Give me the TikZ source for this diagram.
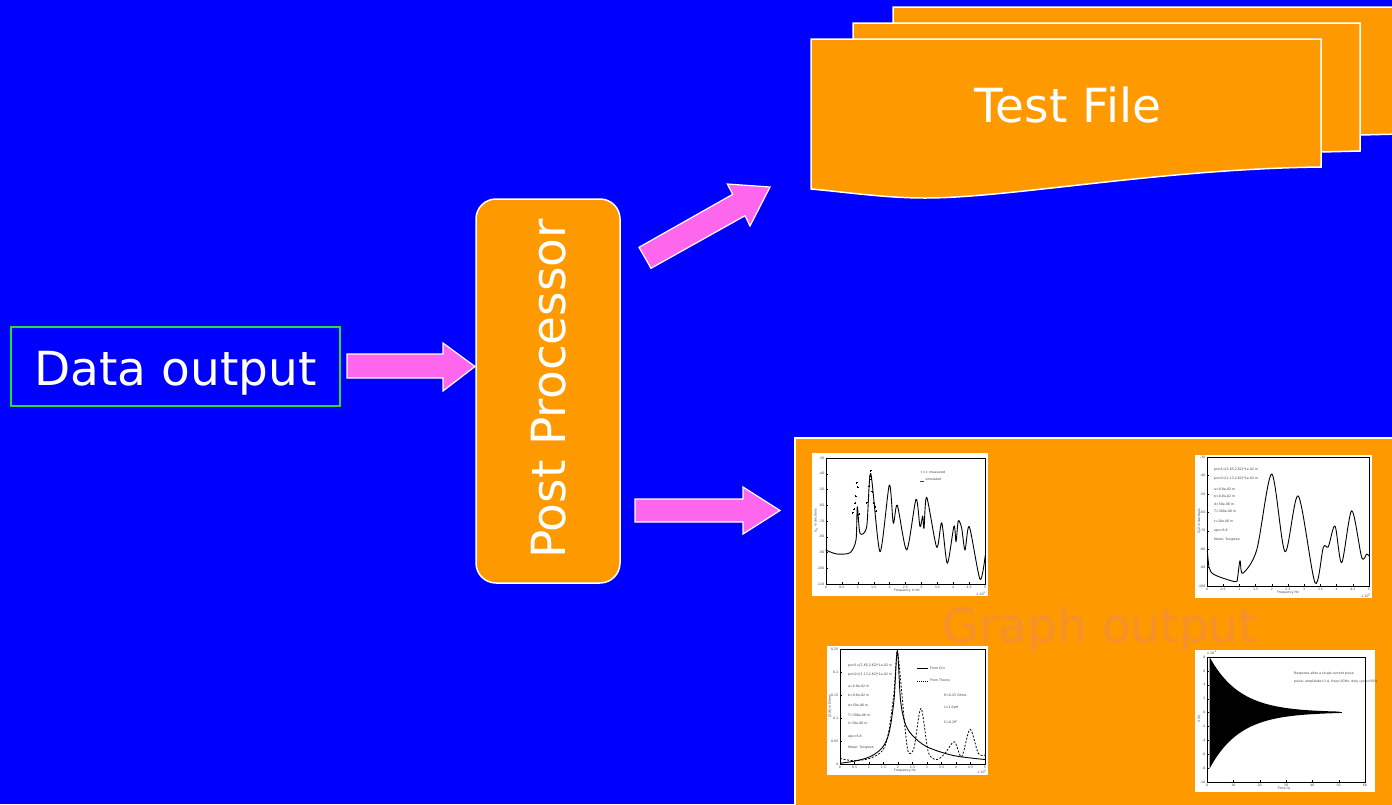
\documentclass[tikz,border=0pt]{standalone}
\usepackage{fontspec}
\setmainfont{DejaVu Sans}
\definecolor{bg}{RGB}{0,0,255}
\definecolor{org}{RGB}{255,153,0}
\definecolor{pnk}{RGB}{255,102,238}
\definecolor{grn}{RGB}{40,220,60}
\definecolor{gtxt}{RGB}{245,145,45}
\tikzset{
  page/.style={fill=org, draw=white, line width=1.5pt, line join=miter},
  blockarrow/.style={fill=pnk, draw=white, line width=1.2pt, line join=miter},
  bigtext/.style={text=white, font=\fontsize{47}{56}\selectfont, inner sep=0pt},
  plotbg/.style={fill=white},
  axbox/.style={draw=black, line width=0.7pt},
  tinytxt/.style={font=\fontsize{3.2}{3.8}\selectfont, text=black!75, inner sep=0pt},
  curve/.style={draw=black, line width=0.9pt, line join=round},
  tickmark/.style={draw=black, line width=0.3pt},
}
\begin{document}
\begin{tikzpicture}[x=1pt,y=-1pt]
\useasboundingbox (0,0) rectangle (1392,804);
\clip (0,0) rectangle (1392,804);
\fill[bg] (0,0) rectangle (1392,804);

% ---------- Test File stack ----------
\draw[page] (893,7) -- (1400,7) -- (1400,134) -- (1360,135)
  .. controls (1230,138) and (1080,156) .. (990,157) .. controls (950,157) and (920,153) .. (893,150) -- cycle;
\draw[page] (853,23) -- (1360,23) -- (1360,151) -- (1321,152)
  .. controls (1200,154) and (1050,175) .. (960,175) .. controls (920,175) and (880,171) .. (853,168) -- cycle;
\draw[page] (811,39) -- (1321,39) -- (1321,167)
  .. controls (1160,169) and (1010,198) .. (925,198)
  .. controls (885,198) and (845,192) .. (811,189) -- cycle;
\node[bigtext, anchor=base] (test) at (1068,122) {Test File};

% ---------- Data output ----------
\node[draw=grn, line width=1.5pt, minimum width=329pt, minimum height=79pt, inner sep=0pt] (data) at (175.5,366.5) {};
\node[bigtext, anchor=base] (datatext) at (175.5,385) {Data output};

% ---------- Post Processor ----------
\draw[fill=org, draw=white, line width=1.5pt, rounded corners=20pt] (476,199) rectangle (620,583);
\coordinate (post) at (548,391);
\node[bigtext, rotate=90, anchor=base] (posttext) at (565,389) {Post Processor};

% ---------- Arrows ----------
\draw[blockarrow] (347,354) -- (443,354) -- (443,343) -- (475,366.5) -- (443,391) -- (443,378) -- (347,378) -- cycle;
\draw[blockarrow] (639,247.3) -- (732.7,194.3) -- (727.3,184) -- (770,187) -- (750,226) -- (745,215.7) -- (651,268.3) -- cycle;
\draw[blockarrow] (635,499) -- (743,499) -- (743,487) -- (780,510.5) -- (743,534) -- (743,522) -- (635,522) -- cycle;

% ---------- Graph output panel ----------
\draw[fill=org, draw=white, line width=1.5pt] (795,438) rectangle (1400,812);
\node[anchor=base, text=gtxt, font=\fontsize{47}{56}\selectfont, inner sep=0pt] (graph) at (1100,642) {Graph output};

% ===== Plot 1 =====
\fill[plotbg] (812,453) rectangle (988,596);
\draw[axbox] (826,458) rectangle (985,584);
\foreach \v [count=\i from 0] in {-30,-40,-50,-60,-70,-80,-90,-100,-110}{
  \draw[tickmark] (826,{458+\i*15.75}) -- ++(2,0);
  \node[tinytxt, anchor=east] at (824.5,{458+\i*15.75}) {\v};}
\foreach \v [count=\i from 0] in {0,0.5,1,1.5,2,2.5,3,3.5,4,4.5,5}{
  \draw[tickmark] ({826+\i*15.9},584) -- ++(0,-2);
  \node[tinytxt, anchor=north] at ({826+\i*15.9},585.5) {\v};}
\node[tinytxt] at (907,591) {Frequency in Hz};
\node[tinytxt] at (981,594) {x 10\textsuperscript{9}};
\node[tinytxt, rotate=90] at (816,521) {S\textsubscript{21} in decibels};
\draw[curve] plot[smooth, tension=0.45] coordinates {(825.7,550) (836.7,554) (850,552.7) (856,540) (857.3,506.7) (860,533.3) (866.7,526.7) (870.7,473.3) (880,551.7) (889.3,485) (893.3,523.3) (897.3,505.3) (906.7,550) (916,499.3) (920,526.7) (922.7,516) (924,528.3) (926.7,497.3) (936.7,547.3) (941.7,522.7) (947.3,563.3) (954,526) (956,541.7) (958.3,520.7) (961.7,528.3) (965,550) (969.3,526.7) (980,579.3) (985.3,555)};
\foreach \a/\b in {852.7/512.7, 854/509.3, 855/503.3, 855.7/496, 856.7/482.7, 857.7/487.3, 859.3/514, 866.7/502.7, 869/486, 870/476, 870.7/470.7, 871.3/479.3, 872.3/491.7, 873.7/503.3, 875/506.7, 876/511}{
  \draw[black, line width=0.5pt] (\a,\b) +(-1,0) -- +(1,0) +(0,-1) -- +(0,1);}
\node[tinytxt, anchor=west] at (920,472) {+++ measured};
\node[tinytxt, anchor=west] at (920,480) {\underline{\ \ \ \ } simulated};

% ===== Plot 2 =====
\fill[plotbg] (1195,455) rectangle (1372,598);
\draw[axbox] (1207,457) rectangle (1369,586);
\foreach \v [count=\i from 0] in {-30,-40,-50,-60,-70,-80,-90,-100}{
  \draw[tickmark] (1207,{457+\i*18.43}) -- ++(2,0);
  \node[tinytxt, anchor=east] at (1205.5,{457+\i*18.43}) {\v};}
\foreach \v [count=\i from 0] in {0,0.5,1,1.5,2,2.5,3,3.5,4,4.5,5}{
  \draw[tickmark] ({1207+\i*16.2},586) -- ++(0,-2);
  \node[tinytxt, anchor=north] at ({1207+\i*16.2},587.5) {\v};}
\node[tinytxt] at (1288,593) {Frequency Hz};
\node[tinytxt] at (1366,596) {x 10\textsuperscript{9}};
\node[tinytxt, rotate=90] at (1199,521) {S12 in decibels};
\foreach \t [count=\i from 0] in {{port1=[2.65,2.62]*1e-02 m},{port2=[2.13,2.62]*1e-02 m}}{
  \node[tinytxt, anchor=west] at (1214,{470+\i*8.3}) {\t};}
\foreach \t/\yy in {{a=0.8e-02 m}/489.3,{b=0.8e-02 m}/496.7,{d=50e-06 m}/504,{T=300e-06 m}/511.7,{t=10e-06 m}/521,{eps=6.8}/530.7,{Metal: Tungsten}/539.3}{
  \node[tinytxt, anchor=west] at (1214,\yy) {\t};}
\draw[curve] plot[smooth, tension=0.5] coordinates {(1207.3,550) (1209.3,568.3) (1215,575) (1235,581.7) (1237.5,578) (1240,560.7) (1242.7,573.3) (1256.7,550) (1271.7,474) (1285,551.7) (1298.3,496) (1315,582.7) (1323.3,547.3) (1328.3,546.7) (1335,526) (1341.7,562.7) (1351.7,510.7) (1361.7,557.3) (1366.7,554) (1369,556)};

% ===== Plot 3 =====
\fill[plotbg] (827,646) rectangle (988,775);
\draw[axbox] (840,649) rectangle (985,764);
\foreach \v [count=\i from 0] in {0.25,0.2,0.15,0.1,0.05,0}{
  \draw[tickmark] (840,{649+\i*23}) -- ++(2,0);
  \node[tinytxt, anchor=east] at (838.5,{649+\i*23}) {\v};}
\foreach \v [count=\i from 0] in {0,0.5,1,1.5,2,2.5,3,3.5,4,4.5,5}{
  \draw[tickmark] ({840+\i*14.5},764) -- ++(0,-2);
  \node[tinytxt, anchor=north] at ({840+\i*14.5},765.5) {\v};}
\node[tinytxt] at (905,771) {Frequency Hz};
\node[tinytxt] at (982,772) {x 10\textsuperscript{9}};
\node[tinytxt, rotate=90] at (830,706) {|Z(f)| in Ohms};
\foreach \t/\yy in {{port1=[2.65,2.62]*1e-02 m}/665.7,{port2=[2.13,2.62]*1e-02 m}/674.3,{a=0.8e-02 m}/686.7,{b=0.8e-02 m}/695.7,{d=50e-06 m}/705.7,{T=300e-06 m}/715,{t=10e-06 m}/723.3,{eps=6.8}/736.7,{Metal: Tungsten}/747.7}{
  \node[tinytxt, anchor=west] at (848,\yy) {\t};}
\draw[black, line width=0.3pt] (917,668) -- (928,668);
\node[tinytxt, anchor=west] at (930,668) {From Circ};
\draw[black, line width=0.3pt, dashed, dash pattern=on 1pt off 1pt] (917,681) -- (928,681);
\node[tinytxt, anchor=west] at (930,681) {From Theory};
\node[tinytxt, anchor=west] at (944,695) {R=0.25 Ohms};
\node[tinytxt, anchor=west] at (944,707.7) {L=1.0pH};
\node[tinytxt, anchor=west] at (944,722.7) {C=0.2fF};
\draw[curve] plot[smooth, tension=0.5] coordinates {(840,763.3) (855,761) (870,756.7) (882,748) (889,733) (894,700) (897.3,650.5) (900.5,700) (905,723) (912,735) (926.7,746.7) (953.3,755.5) (985,759.5)};
\draw[curve, line width=0.8pt, dash pattern=on 2pt off 1.6pt] plot[smooth, tension=0.5] coordinates {(840,758.3) (853.3,760.7) (870,758.3) (883,750) (889,730) (894,692) (897.3,651.7) (901.7,692) (905,728) (908.3,752) (914,748) (921,708.3) (928.3,752) (936.7,759.5) (945,753.3) (954.3,741.7) (961.7,756.7) (970,729.3) (978.3,753.3) (985,755)};

% ===== Plot 4 =====
\fill[plotbg] (1195,650) rectangle (1375,792);
\draw[axbox] (1207,657) rectangle (1365,782);
\foreach \v [count=\i from 0] in {8,6,4,2,0,-2,-4,-6,-8,-10}{
  \draw[tickmark] (1207,{657+\i*13.89}) -- ++(2,0);
  \node[tinytxt, anchor=east] at (1205.5,{657+\i*13.89}) {\v};}
\foreach \v [count=\i from 0] in {0,10,20,30,40,50,60}{
  \draw[tickmark] ({1207+\i*26.33},782) -- ++(0,-2);
  \node[tinytxt, anchor=north] at ({1207+\i*26.33},783.5) {\v};}
\node[tinytxt] at (1212,653) {x 10\textsuperscript{-4}};
\node[tinytxt] at (1284,788.5) {Time ns};
\node[tinytxt, rotate=90] at (1199,719) {V (V)};
\node[tinytxt, anchor=west] at (1294,674) {Response after a single current pulse};
\node[tinytxt, anchor=west] at (1294,681.5) {pulse: amplitude=1 A, freq=1GHz, duty cycle=50\%};
\fill[black] plot[domain=0:130, samples=66, variable=\t] ({1209.5+\t},{712.3-55.5*exp(-\t/30)})
  -- plot[domain=130:0, samples=66, variable=\t] ({1209.5+\t},{712.3+56.5*exp(-\t/30)}) -- cycle;
\draw[black, line width=0.8pt] (1209.5,712.3) -- (1341.7,712.3);
\end{tikzpicture}
\end{document}
